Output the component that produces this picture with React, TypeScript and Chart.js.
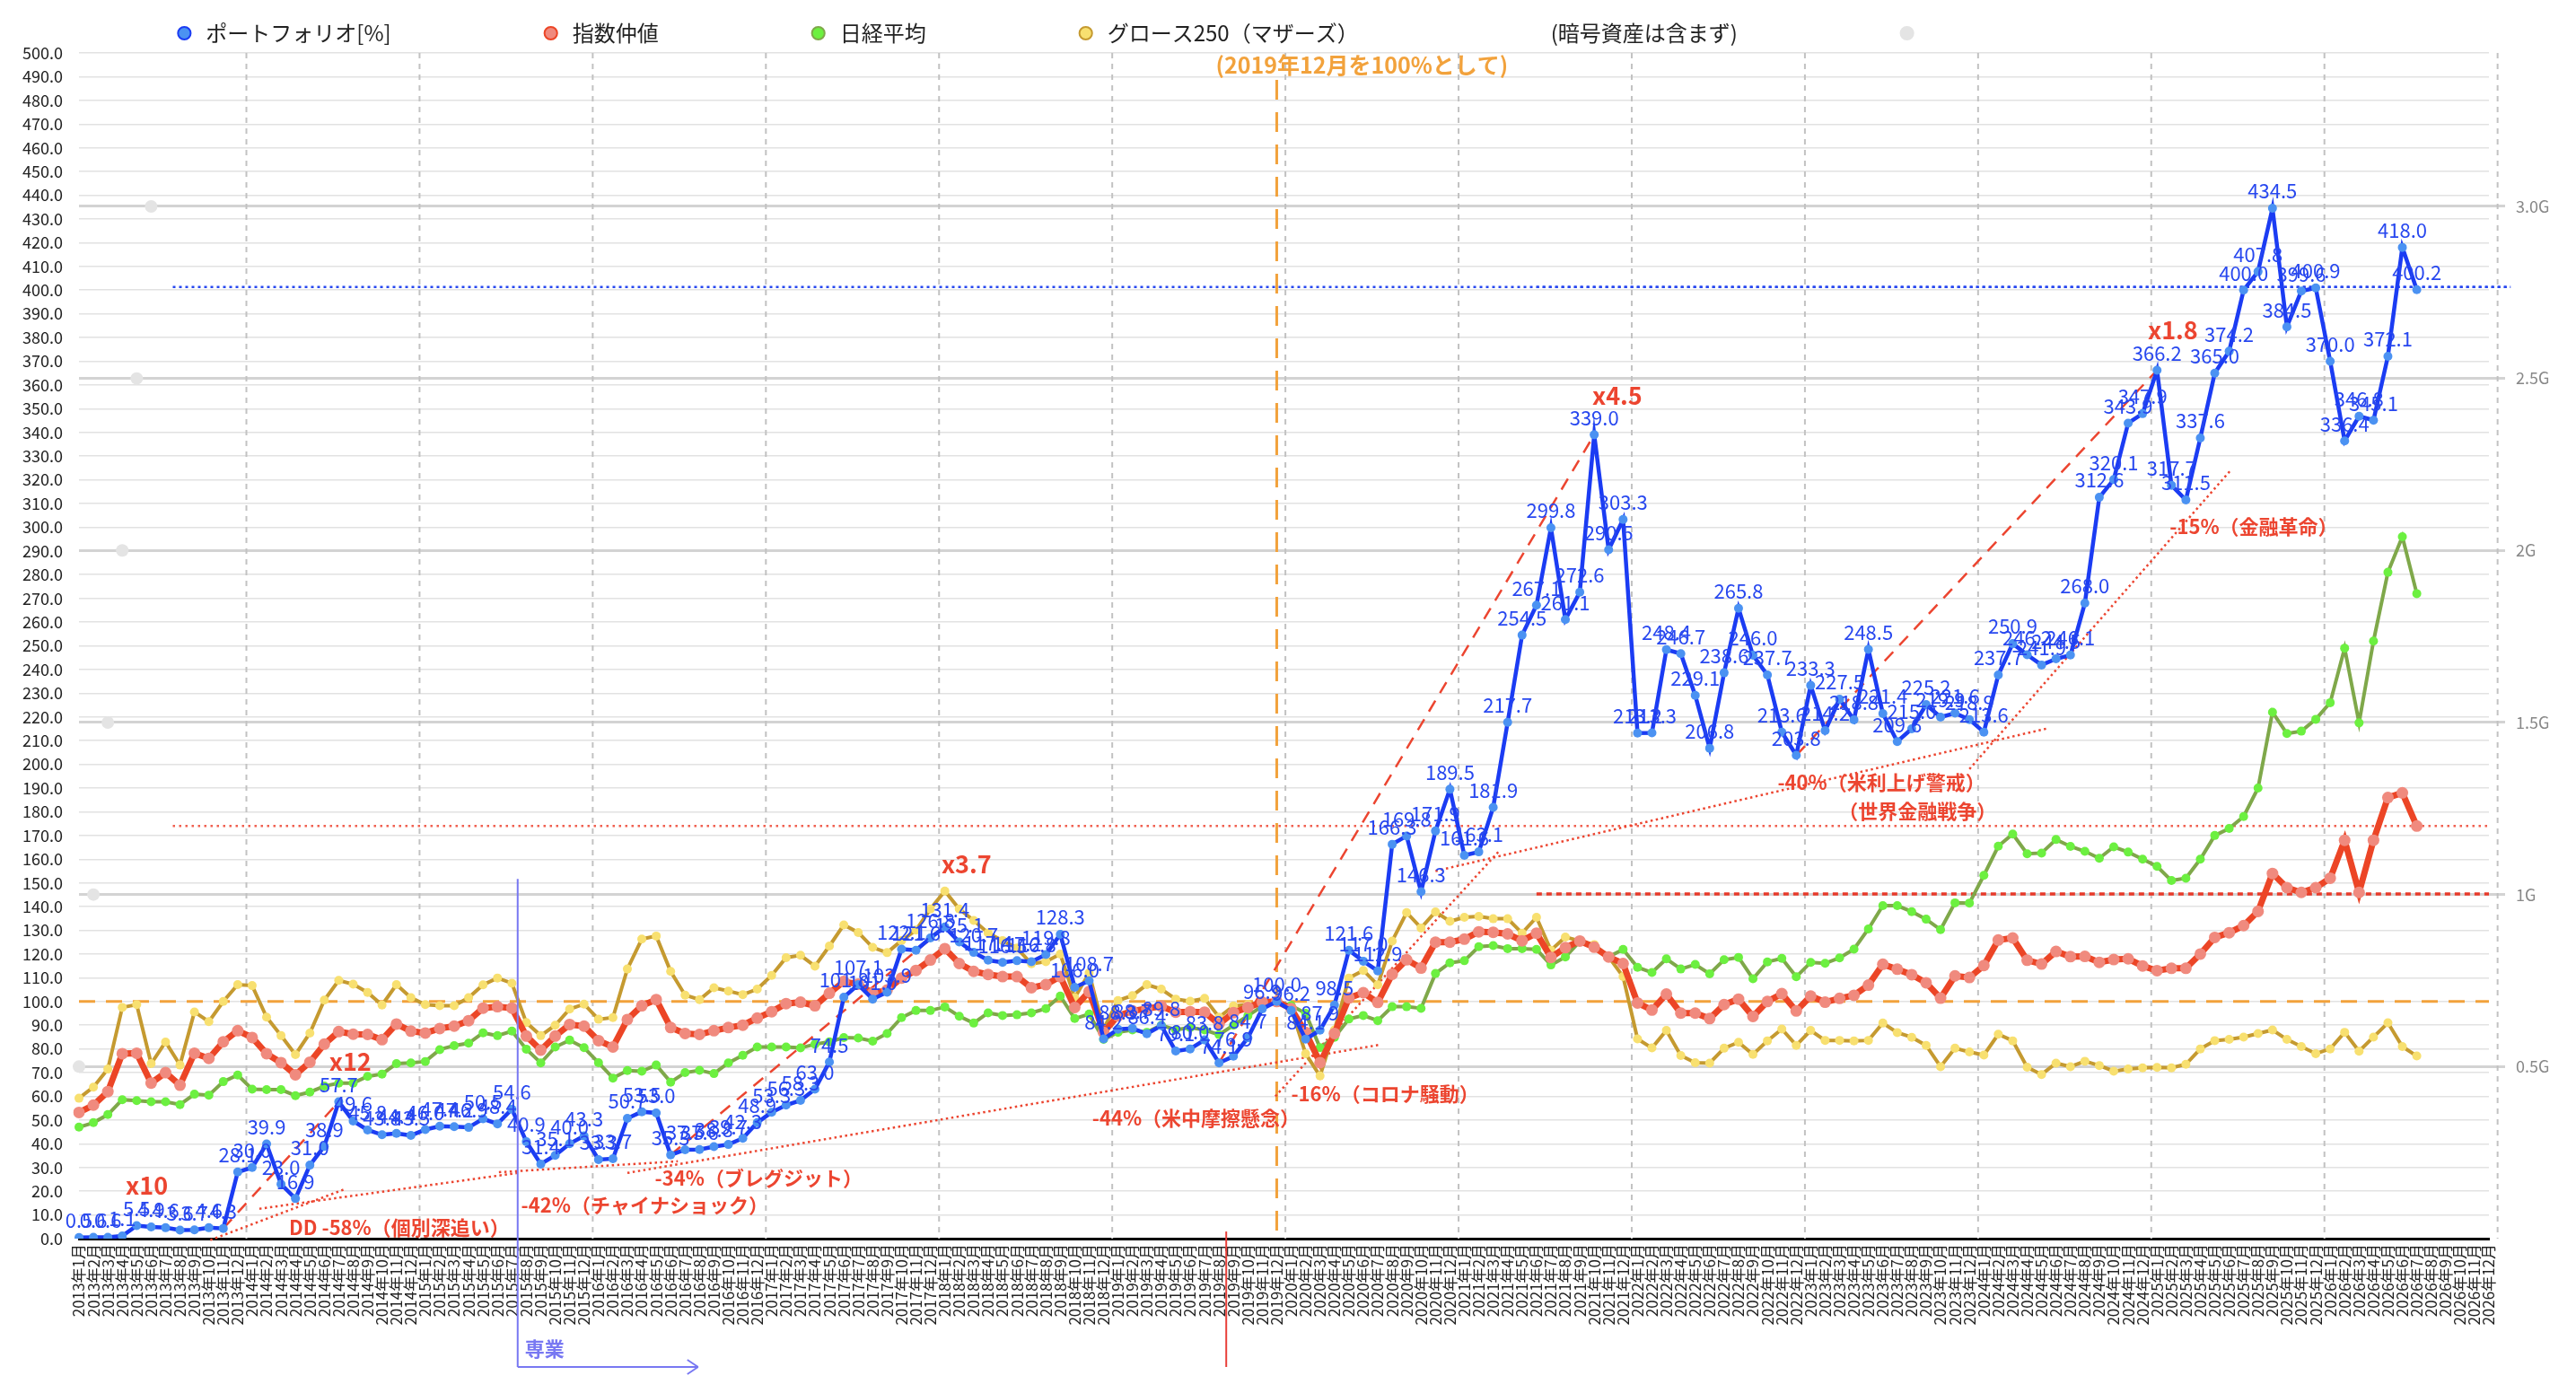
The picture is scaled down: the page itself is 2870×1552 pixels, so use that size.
import { useEffect, useRef } from "react";
import { Chart, registerables } from "chart.js";
Chart.register(...registerables);

const FONT = '"Noto Sans CJK JP", "Noto Sans", sans-serif';

const years = [2013, 2014, 2015, 2016, 2017, 2018, 2019, 2020, 2021, 2022, 2023, 2024, 2025, 2026];
const months = ["1月", "2月", "3月", "4月", "5月", "6月", "7月", "8月", "9月", "10月", "11月", "12月"];
const categories = years.flatMap((y) => months.map((m) => `${y}年${m}`));

// ポートフォリオ[%]
const portfolio = [
  0.5, 0.6, 0.6, 1.1, 5.5, 4.9, 4.6, 3.6, 3.7, 4.6, 4.3, 28.1,
  30.0, 39.9, 23.0, 16.9, 31.0, 38.9, 57.7, 49.6, 45.8, 43.8, 44.4, 43.5,
  46.0, 47.4, 47.2, 46.9, 50.5, 48.4, 54.6, 40.9, 31.4, 35.1, 40.0, 43.3,
  33.3, 33.7, 50.7, 53.5, 53.0, 35.3, 37.5, 37.6, 38.8, 39.7, 42.3, 48.9,
  53.3, 56.3, 58.3, 63.0, 74.5, 101.8, 107.1, 101.0, 103.9, 122.1, 121.6, 126.8,
  131.4, 125.1, 120.7, 117.4, 116.5, 117.2, 116.8, 119.8, 128.3, 106.0, 108.7, 84.2,
  88.3, 88.7, 86.4, 89.8, 79.1, 80.0, 83.8, 74.1, 76.9, 84.7, 96.9, 100.0,
  96.2, 84.1, 87.9, 98.5, 121.6, 117.0, 112.9, 166.3, 169.8, 146.3, 171.9, 189.5,
  161.6, 163.1, 181.9, 217.7, 254.5, 267.1, 299.8, 261.1, 272.6, 339.0, 290.5, 303.3,
  213.2, 213.3, 248.4, 246.7, 229.1, 206.8, 238.6, 265.8, 246.0, 237.7, 213.6, 203.8,
  233.3, 214.2, 227.5, 218.8, 248.5, 221.4, 209.6, 215.0, 225.2, 219.9, 221.6, 218.9,
  213.6, 237.7, 250.9, 246.2, 241.9, 244.5, 246.1, 268.0, 312.6, 320.1, 343.9, 347.9,
  366.2, 317.7, 311.5, 337.6, 365.0, 374.2, 400.0, 407.8, 434.5, 384.5, 399.6, 400.9,
  370.0, 336.4, 346.8, 345.1, 372.1, 418.0, 400.2,
];

// 指数仲値
const indexMid = [
  53.2, 56.3, 62.0, 78.0, 78.2, 65.6, 70.0, 64.7, 78.2, 76.0, 83.0, 87.7,
  84.8, 78.0, 74.2, 69.1, 74.4, 82.0, 87.3, 86.2, 86.1, 83.9, 90.5, 87.5,
  86.7, 88.6, 89.6, 91.9, 97.2, 97.8, 97.2, 85.4, 79.5, 85.4, 90.3, 89.6,
  83.5, 80.8, 92.4, 98.2, 100.8, 89.0, 86.5, 86.1, 87.7, 89.0, 90.0, 93.0,
  95.7, 99.1, 99.7, 98.2, 103.5, 108.4, 107.3, 103.5, 104.8, 109.9, 113.1, 117.5,
  122.3, 116.0, 112.7, 111.4, 110.5, 110.5, 105.8, 107.1, 110.5, 97.5, 104.2, 87.0,
  94.0, 96.0, 97.0, 98.0, 95.5, 95.7, 95.5, 90.5, 95.3, 97.5, 99.7, 100.0,
  97.0, 87.0, 74.2, 86.5, 101.5, 103.7, 99.6, 111.5, 117.6, 114.1, 125.0, 125.0,
  126.3, 129.4, 129.2, 128.5, 125.6, 128.8, 118.6, 122.7, 125.5, 122.9, 118.8, 116.0,
  99.4, 96.4, 103.1, 95.1, 95.1, 92.8, 98.7, 101.0, 93.7, 100.0, 103.3, 96.0,
  102.3, 99.7, 101.3, 102.6, 106.9, 115.7, 113.6, 111.3, 107.9, 101.4, 110.8, 110.1,
  115.2, 125.9, 126.8, 117.4, 115.8, 121.1, 118.9, 119.0, 116.5, 117.7, 118.0, 115.0,
  113.0, 114.0, 114.0, 120.0, 127.0, 129.0, 132.0, 138.0, 154.0, 148.0, 146.0, 148.0,
  152.0, 168.0, 146.0, 168.0, 186.0, 188.0, 174.0,
];

// 日経平均
const nikkei = [
  47.0, 48.9, 52.3, 58.6, 58.2, 57.7, 57.7, 56.5, 60.9, 60.5, 66.2, 69.0,
  63.0, 62.8, 62.8, 60.3, 61.8, 64.3, 65.6, 65.6, 68.4, 69.4, 73.8, 74.1,
  74.7, 79.7, 81.4, 82.4, 86.8, 85.6, 87.5, 79.9, 74.1, 80.8, 83.7, 80.5,
  74.2, 67.7, 70.9, 70.6, 73.2, 66.0, 70.0, 71.0, 69.6, 74.1, 77.3, 80.8,
  80.8, 80.8, 80.4, 82.0, 83.0, 84.8, 84.6, 83.3, 86.5, 93.2, 96.2, 96.2,
  97.7, 93.8, 90.9, 95.2, 94.1, 94.4, 95.2, 97.0, 102.3, 92.8, 94.7, 84.0,
  87.0, 88.0, 87.0, 90.0, 88.0, 89.0, 88.0, 86.0, 90.0, 94.0, 98.0, 100.0,
  98.3, 95.0, 80.5, 84.9, 92.6, 94.1, 91.9, 97.8, 97.8, 97.1, 111.8, 116.3,
  117.2, 123.1, 123.6, 122.3, 122.3, 122.0, 115.4, 118.8, 125.3, 123.3, 118.8, 122.0,
  114.4, 112.2, 118.0, 113.7, 115.6, 111.7, 117.6, 118.6, 109.6, 116.7, 118.2, 110.4,
  116.5, 116.1, 118.4, 122.1, 130.6, 140.4, 140.4, 137.9, 134.7, 130.3, 141.6, 141.5,
  153.2, 165.5, 170.6, 162.3, 162.6, 168.3, 165.4, 163.3, 160.4, 165.2, 163.0, 160.0,
  157.0, 151.0, 152.0, 160.0, 170.0, 173.0, 178.0, 190.0, 222.0, 213.0, 214.0, 219.0,
  226.0, 249.0, 217.5, 252.0, 281.0, 296.0, 272.0,
];

// グロース250（マザーズ）
const growth250 = [
  59.2, 63.9, 71.5, 97.5, 98.7, 73.8, 82.9, 73.2, 95.6, 91.5, 100.0, 107.1,
  106.7, 93.4, 85.6, 77.6, 86.7, 100.6, 108.9, 107.3, 103.8, 98.5, 107.1, 101.6,
  98.7, 98.2, 98.2, 101.6, 107.0, 109.9, 107.7, 91.1, 85.6, 90.0, 96.8, 98.9,
  92.5, 93.2, 113.7, 126.3, 127.6, 112.7, 102.7, 100.8, 105.8, 104.4, 102.9, 105.2,
  111.0, 118.5, 119.5, 114.9, 123.4, 132.3, 129.1, 122.8, 120.6, 125.7, 130.1, 139.0,
  146.6, 139.0, 134.2, 128.9, 125.7, 122.5, 115.9, 116.8, 120.0, 101.6, 112.0, 88.4,
  100.4, 102.5, 107.1, 105.2, 101.0, 100.1, 101.3, 93.4, 98.1, 98.7, 99.5, 100.0,
  97.0, 78.0, 68.6, 88.0, 109.9, 113.1, 107.0, 125.5, 137.5, 131.0, 137.8, 133.8,
  135.5, 135.9, 134.9, 134.9, 128.8, 135.5, 121.6, 127.2, 125.5, 124.0, 118.8, 110.5,
  84.2, 80.4, 87.8, 77.2, 74.2, 74.0, 80.3, 82.8, 77.7, 83.4, 88.4, 81.5,
  87.8, 83.6, 83.6, 83.4, 83.6, 90.9, 86.9, 84.9, 81.5, 72.5, 80.3, 78.7,
  77.4, 86.2, 83.4, 72.3, 69.2, 74.0, 72.5, 74.8, 73.0, 70.6, 71.5, 72.0,
  72.2, 72.0, 73.5, 80.0, 83.5, 84.0, 85.0, 86.5, 88.0, 84.0, 81.0, 78.0,
  80.0, 87.0, 79.0, 85.0, 91.0, 81.0, 77.0,
];

// right axis marker dots (G)
const rightMarkers = [0.5e9, 1.0e9, 1.5e9, 2.0e9, 2.5e9, 3.0e9];
const rightTickValues = [0.5e9, 1.0e9, 1.5e9, 2.0e9, 2.5e9, 3.0e9];
const rightTickLabels = ["0.5G", "1G", "1.5G", "2G", "2.5G", "3.0G"];

// annotations in data coordinates: [index0, value0, index1, value1]
const growthLines = [
  [10, 4.3, 18, 57.7],
  [41, 35.3, 60, 131.4],
  [79, 74.1, 105, 339.0],
  [119, 203.8, 144, 366.2],
];
const drawdownLines = [
  [9.1, -0.6, 18.4, 20.8],
  [12.5, 12.6, 30.4, 27.7],
  [29.1, 28.0, 41.5, 32.6],
  [38.0, 27.7, 90.1, 81.7],
  [82.9, 60.0, 98.4, 163.4],
  [94.0, 155.0, 136.5, 215.3],
  [131.0, 198.0, 149.1, 324.0],
];
const levelLines = [
  { value: 401.3, from: 6.5, to: 168.5, kind: "blue" },
  { value: 401.3, from: 101, to: 168.5, kind: "blue" },
  { value: 174.0, from: 6.5, to: 167, kind: "red" },
  { value: 145.3, from: 101, to: 167, kind: "redDense" },
];
const notes = [
  { text: "x10", at: [4.7, 22.3], big: true },
  { text: "DD -58%（個別深追い）", at: [22.2, 4.5], big: false },
  { text: "x12", at: [18.8, 74.8], big: true },
  { text: "-42%（チャイナショック）", at: [39.2, 14.2], big: false },
  { text: "-34%（ブレグジット）", at: [47.1, 25.6], big: false },
  { text: "x3.7", at: [61.5, 158], big: true },
  { text: "-44%（米中摩擦懸念）", at: [77.4, 50.9], big: false },
  { text: "-16%（コロナ騒動）", at: [90.5, 61.2], big: false },
  { text: "x4.5", at: [106.6, 355.5], big: true },
  { text: "-40%（米利上げ警戒）", at: [124.9, 192.4], big: false },
  { text: "（世界金融戦争）", at: [127.4, 180.4], big: false },
  { text: "x1.8", at: [145.1, 383.3], big: true },
  { text: "-15%（金融革命）", at: [150.7, 300.1], big: false },
];
const baseIndex = 83;
const baseNote = { text: "(2019年12月を100%として)", at: [88.9, 495] };
const careerMark = { index: 30.4, top: 151.7, arrowTo: 42.9, text: "専業" };
const redMark = { index: 79.5, top: 3 };

const RED = "#ec4530";
const legendFill = ["#4b92f2", "#f08a7e", "#6cf040", "#f8e070", "rgba(0,0,0,0)", "#e4e4e4"];
const legendStroke = ["#1b3cf3", "#ec4526", "#7fa84a", "#c59a30", "rgba(0,0,0,0)", "#e4e4e4"];
const legendGaps = [
  "\u3000".repeat(6),
  "\u3000".repeat(6),
  "\u3000".repeat(6),
  "\u3000".repeat(7),
  "\u3000".repeat(6) + "  ",
  "\u3000".repeat(22),
];

function seg(ctx: CanvasRenderingContext2D, x0: number, y0: number, x1: number, y1: number) {
  ctx.beginPath();
  ctx.moveTo(x0, y0);
  ctx.lineTo(x1, y1);
  ctx.stroke();
}

const notesPlugin = {
  id: "notes",
  beforeDatasetsDraw(chart: any) {
    const { ctx, chartArea: ca, scales } = chart;
    const x = scales.x;
    const y = scales.y;
    ctx.save();

    // yearly separators
    ctx.strokeStyle = "#c2c2c2";
    ctx.lineWidth = 2;
    ctx.setLineDash([6, 6]);
    for (let i = 11.6; i < categories.length; i += 12) {
      const px = x.getPixelForValue(i);
      seg(ctx, px, ca.top, px, ca.bottom);
    }

    // 100% line and base month
    ctx.strokeStyle = "#f2a23c";
    ctx.lineWidth = 3;
    ctx.setLineDash([18, 12]);
    seg(ctx, ca.left, y.getPixelForValue(100), ca.right, y.getPixelForValue(100));
    ctx.setLineDash([22, 14]);
    const bx = x.getPixelForValue(baseIndex);
    seg(ctx, bx, ca.top + 30, bx, ca.bottom);

    levelLines.forEach((l) => {
      if (l.kind === "blue") {
        ctx.strokeStyle = "#2747ef";
        ctx.lineWidth = 2.5;
        ctx.setLineDash([3, 4]);
      } else if (l.kind === "red") {
        ctx.strokeStyle = "#f06050";
        ctx.lineWidth = 2.5;
        ctx.setLineDash([2.5, 4.5]);
      } else {
        ctx.strokeStyle = "#e83a2a";
        ctx.lineWidth = 3.5;
        ctx.setLineDash([6, 5]);
      }
      const py = y.getPixelForValue(l.value);
      seg(ctx, x.getPixelForValue(l.from), py, x.getPixelForValue(l.to), py);
    });

    ctx.strokeStyle = RED;
    ctx.lineWidth = 2.5;
    ctx.setLineDash([14, 10]);
    growthLines.forEach(([a, b, c, d]) =>
      seg(ctx, x.getPixelForValue(a), y.getPixelForValue(b), x.getPixelForValue(c), y.getPixelForValue(d))
    );
    ctx.setLineDash([2.5, 3.5]);
    drawdownLines.forEach(([a, b, c, d]) =>
      seg(ctx, x.getPixelForValue(a), y.getPixelForValue(b), x.getPixelForValue(c), y.getPixelForValue(d))
    );
    ctx.restore();
  },
  afterDatasetsDraw(chart: any) {
    const { ctx, chartArea: ca, scales } = chart;
    const x = scales.x;
    const y = scales.y;
    ctx.save();

    // value labels on the portfolio line
    const meta = chart.getDatasetMeta(0);
    ctx.font = `22px ${FONT}`;
    ctx.fillStyle = "#2747ef";
    ctx.textAlign = "center";
    ctx.textBaseline = "bottom";
    meta.data.forEach((pt: any, i: number) => {
      ctx.fillText(portfolio[i].toFixed(1), pt.x, pt.y - 8);
    });

    // red notes
    ctx.textBaseline = "middle";
    ctx.fillStyle = RED;
    notes.forEach((n) => {
      ctx.font = n.big ? `bold 27px ${FONT}` : `bold 22px ${FONT}`;
      ctx.fillText(n.text, x.getPixelForValue(n.at[0]), y.getPixelForValue(n.at[1]));
    });
    ctx.font = `bold 25px ${FONT}`;
    ctx.fillStyle = "#f2a23c";
    ctx.fillText(baseNote.text, x.getPixelForValue(baseNote.at[0]), y.getPixelForValue(baseNote.at[1]));

    // career start marker
    ctx.setLineDash([]);
    const yb = ca.bottom + 143;
    const cx = x.getPixelForValue(careerMark.index);
    const ax = x.getPixelForValue(careerMark.arrowTo);
    ctx.strokeStyle = "#7878f2";
    ctx.lineWidth = 2;
    seg(ctx, cx, y.getPixelForValue(careerMark.top), cx, yb);
    seg(ctx, cx, yb, ax, yb);
    seg(ctx, ax - 12, yb - 8, ax, yb);
    seg(ctx, ax - 12, yb + 8, ax, yb);
    ctx.fillStyle = "#7878f2";
    ctx.font = `bold 22px ${FONT}`;
    ctx.textAlign = "left";
    ctx.fillText(careerMark.text, cx + 8, yb - 20);

    // red marker below axis
    const rx = x.getPixelForValue(redMark.index);
    ctx.strokeStyle = "#e8403a";
    ctx.lineWidth = 2;
    seg(ctx, rx, y.getPixelForValue(redMark.top), rx, yb);
    ctx.restore();
  },
};

export default function App() {
  const chartRef = useRef<HTMLCanvasElement>(null);
  const chartInstance = useRef<Chart | null>(null);

  useEffect(() => {
    if (!chartRef.current) return;
    if (chartInstance.current) chartInstance.current.destroy();

    chartInstance.current = new Chart(chartRef.current, {
      type: "line",
      data: {
        labels: categories,
        datasets: [
          {
            label: "ポートフォリオ[%]",
            data: portfolio,
            borderColor: "#1b3cf3",
            backgroundColor: "#4b92f2",
            pointBackgroundColor: "#4b92f2",
            pointBorderWidth: 0,
            pointRadius: 5,
            borderWidth: 4.5,
            yAxisID: "y",
          },
          {
            label: "指数仲値",
            data: indexMid,
            borderColor: "#ec4526",
            backgroundColor: "#f08a7e",
            pointBackgroundColor: "#f08a7e",
            pointBorderWidth: 0,
            pointRadius: 6.5,
            borderWidth: 7,
            yAxisID: "y",
          },
          {
            label: "日経平均",
            data: nikkei,
            borderColor: "#7fa84a",
            backgroundColor: "#6cf040",
            pointBackgroundColor: "#6cf040",
            pointBorderWidth: 0,
            pointRadius: 5,
            borderWidth: 4,
            yAxisID: "y",
          },
          {
            label: "グロース250（マザーズ）",
            data: growth250,
            borderColor: "#c59a30",
            backgroundColor: "#f8e070",
            pointBackgroundColor: "#f8e070",
            pointBorderWidth: 0,
            pointRadius: 5,
            borderWidth: 4,
            yAxisID: "y",
          },
          {
            label: "(暗号資産は含まず)",
            data: [],
            borderColor: "rgba(0,0,0,0)",
            backgroundColor: "rgba(0,0,0,0)",
            yAxisID: "y",
          },
          {
            label: "",
            data: rightMarkers,
            showLine: false,
            borderColor: "#e4e4e4",
            backgroundColor: "#e4e4e4",
            pointBackgroundColor: "#e4e4e4",
            pointBorderWidth: 0,
            pointRadius: 7,
            yAxisID: "y2",
          },
        ],
      },
      options: {
        responsive: true,
        maintainAspectRatio: false,
        animation: false,
        layout: { padding: { top: 3 } },
        plugins: {
          tooltip: { enabled: false },
          legend: {
            position: "top",
            align: "center",
            labels: {
              usePointStyle: true,
              boxWidth: 24,
              boxHeight: 10,
              padding: 22,
              color: "#222",
              font: { family: FONT, size: 24 },
              generateLabels: (chart: any) => {
                const base = Chart.defaults.plugins.legend.labels.generateLabels(chart);
                return base.map((item: any, i: number) => ({
                  ...item,
                  text: (chart.data.datasets[i].label || "") + legendGaps[i],
                  fillStyle: legendFill[i],
                  strokeStyle: legendStroke[i],
                  lineWidth: 2,
                  pointStyle: "circle",
                  hidden: false,
                }));
              },
            },
          },
        },
        scales: {
          x: {
            ticks: {
              autoSkip: false,
              maxRotation: 90,
              minRotation: 90,
              padding: 6,
              color: "#222",
              font: { family: FONT, size: 17 },
            },
            grid: { color: "rgba(0,0,0,0)", drawTicks: false },
            border: { display: true, color: "#000", width: 3 },
            afterFit: (s: any) => {
              s.height = 172;
            },
          },
          y: {
            position: "left",
            min: 0,
            max: 500,
            ticks: {
              stepSize: 10,
              autoSkip: false,
              padding: 18,
              color: "#222",
              font: { family: FONT, size: 18 },
              callback: (v: any) => Number(v).toFixed(1),
            },
            grid: { color: "#e2e2e2", lineWidth: 1.5, drawTicks: false },
            border: { display: false },
            afterFit: (s: any) => {
              s.width = 88;
            },
          },
          y2: {
            position: "right",
            min: 0,
            max: 3.446e9,
            afterBuildTicks: (s: any) => {
              s.ticks = rightTickValues.map((v) => ({ value: v }));
            },
            ticks: {
              autoSkip: false,
              padding: 12,
              color: "#888",
              font: { family: FONT, size: 18 },
              callback: (_v: any, i: number) => rightTickLabels[i],
            },
            grid: { color: "#d3d3d3", lineWidth: 3, drawTicks: true, tickLength: 18 },
            border: { display: false },
            afterFit: (s: any) => {
              s.width = 97;
            },
          },
        },
      },
      plugins: [notesPlugin],
    } as any);

    return () => {
      chartInstance.current?.destroy();
      chartInstance.current = null;
    };
  }, []);

  return (
    <div style={{ position: "fixed", inset: 0, background: "#fff" }}>
      <canvas ref={chartRef}></canvas>
    </div>
  );
}
